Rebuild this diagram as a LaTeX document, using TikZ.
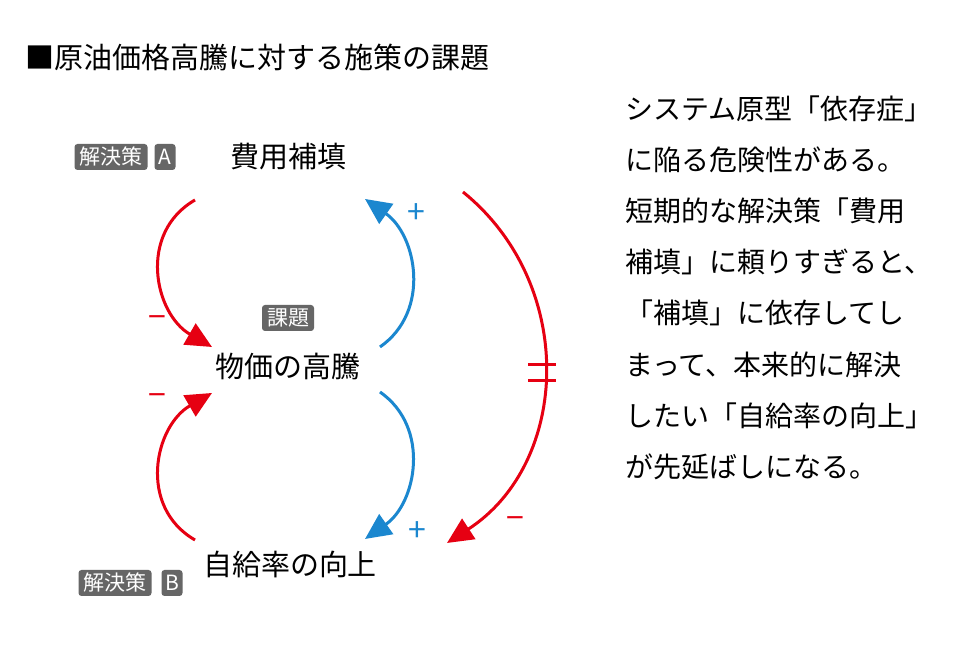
\documentclass[tikz,border=0pt]{standalone}
\usepackage{fontspec}
\setmainfont{Noto Sans CJK JP}
\usepackage{tikz}
\usetikzlibrary{
    arrows.meta,
    calc,
    positioning
}
\definecolor{cldred}{HTML}{E60012}
\definecolor{cldblue}{HTML}{1B87CF}
\definecolor{badgegray}{HTML}{666666}
\tikzset{
    var/.style={font=\fontsize{14.5}{17}\selectfont, inner sep=0pt},
    badge/.style={fill=badgegray, text=white, rounded corners=1.5pt, font=\fontsize{10.5}{12}\selectfont, inner xsep=2.5pt, inner ysep=0pt, minimum height=13pt},
    letter/.style={badge, inner xsep=0pt, minimum width=10.5pt},
    link/.style={line width=1.5pt, -{Triangle[length=13pt, width=12pt]}},
    sgn/.style={font=\fontsize{16}{18}\selectfont, inner sep=0pt}
}

\begin{document}
\begin{tikzpicture}[x=0.5pt, y=0.5pt]
                        \fill[white] (0,0) rectangle (960,667);
                        \useasboundingbox (0,0) rectangle (960,667);

                        \node[var, anchor=west] (title) at (25,610) {■原油価格高騰に対する施策の課題};

                        \node[var] (cost) at (288,510) {費用補填};
                        \node[var] (price) at (288,300) {物価の高騰};
                        \node[var] (self) at (290,102) {自給率の向上};

                        \node[badge] (solA) at (111,510) {解決策};
                        \node[letter] (tagA) at (165,510) {A};
                        \node[badge] (issue) at (288,349) {課題};
                        \node[badge] (solB) at (115,84) {解決策};
                        \node[letter] (tagB) at (172,84) {B};

                        \coordinate (aS) at (195,467); \coordinate (aE) at (212,320);
                        \coordinate (bS) at (195,127); \coordinate (bE) at (212,274);
                        \coordinate (cS) at (380,320); \coordinate (cE) at (365,468);
                        \coordinate (dS) at (380,275); \coordinate (dE) at (365,128);
                        \coordinate (eS) at (463,475); \coordinate (eE) at (447,124);

                        \draw[link, cldred] (aS) to[out=210, in=150, looseness=1.15] (aE);
                        \draw[link, cldred] (bS) to[out=150, in=210, looseness=1.15] (bE);
                        \draw[link, cldblue] (cS) to[out=35, in=-35, looseness=1.08] (cE);
                        \draw[link, cldblue] (dS) to[out=-35, in=35, looseness=1.08] (dE);
                        \draw[link, cldred] (eS) to[out=-39, in=33, looseness=1.07] coordinate[pos=0.5] (dly) (eE);

                        % delay mark
                        \draw[cldred, line width=1.5pt]
                        ($(dly)+(-16,8)$) -- ++(28,0)
                        ($(dly)+(-16,-8)$) -- ++(28,0);

                        \node[sgn, text=cldred] (mA) at (157,345) {−};
                        \node[sgn, text=cldred] (mB) at (157,267) {−};
                        \node[sgn, text=cldblue] (pC) at (416,453) {+};
                        \node[sgn, text=cldblue] (pD) at (417,135) {+};
                        \node[sgn, text=cldred] (mE) at (515,144) {−};

                        \node[anchor=north west, align=left, inner sep=0pt, font=\fontsize{14}{25.6}\selectfont] (note) at (625,572)
                        {システム原型「依存症」\\に陥る危険性がある。\\短期的な解決策「費用\\補填」に頼りすぎると、\\「補填」に依存してし\\まって、本来的に解決\\したい「自給率の向上」\\が先延ばしになる。};
                    \end{tikzpicture}
\end{document}
